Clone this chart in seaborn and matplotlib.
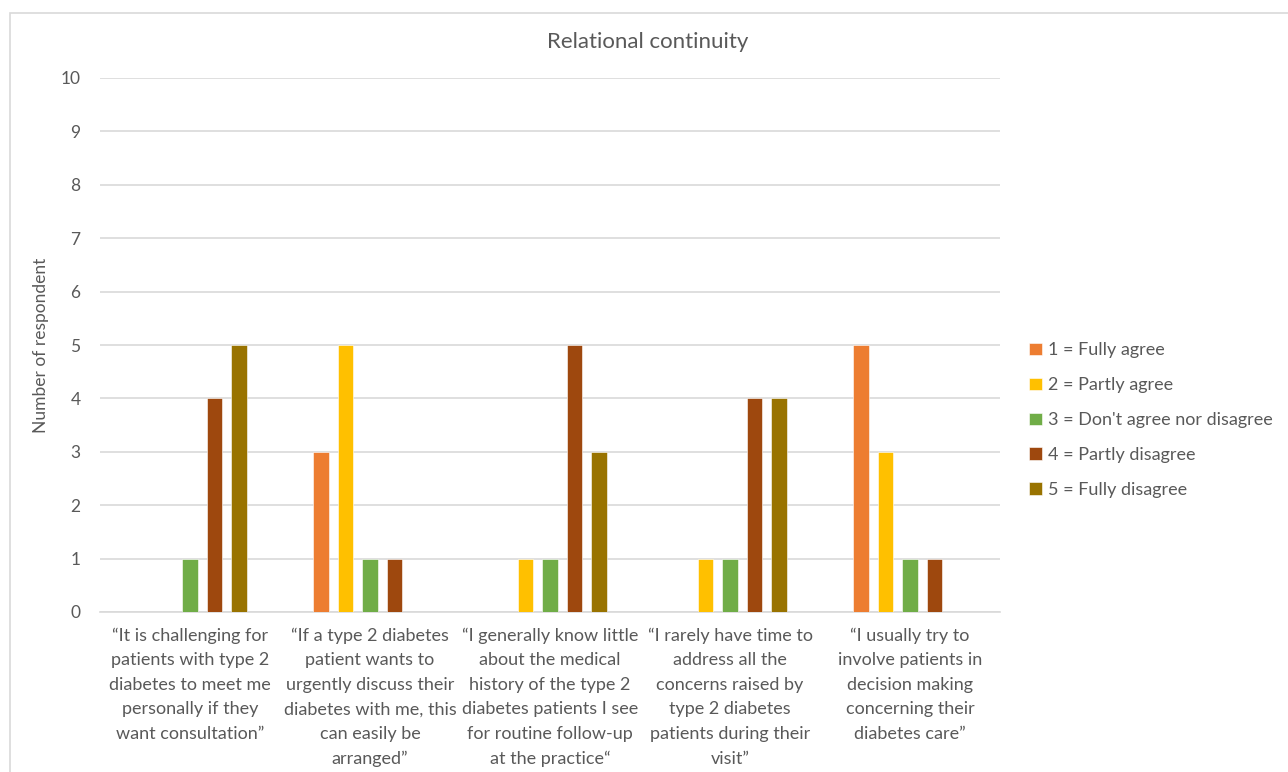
import matplotlib
matplotlib.use("Agg")
import matplotlib.pyplot as plt
import seaborn as sns
import pandas as pd
from matplotlib.patches import Rectangle

categories = [
    "\u201cIt is challenging for\npatients with type 2\ndiabetes to meet me\npersonally if they\nwant consultation\u201d",
    "\u201cIf a type 2 diabetes\npatient wants to\nurgently discuss their\ndiabetes with me, this\ncan easily be\narranged\u201d",
    "\u201cI generally know little\nabout the medical\nhistory of the type 2\ndiabetes patients I see\nfor routine follow-up\nat the practice\u201c",
    "\u201cI rarely have time to\naddress all the\nconcerns raised by\ntype 2 diabetes\npatients during their\nvisit\u201d",
    "\u201cI usually try to\ninvolve patients in\ndecision making\nconcerning their\ndiabetes care\u201d",
]
series = [
    "1 = Fully agree",
    "2 = Partly agree",
    "3 = Don't agree nor disagree",
    "4 = Partly disagree",
    "5 = Fully disagree",
]
fully_agree = [0, 3, 0, 0, 5]
partly_agree = [0, 5, 1, 1, 3]
neither = [1, 1, 1, 1, 1]
partly_disagree = [4, 1, 5, 4, 1]
fully_disagree = [5, 0, 3, 4, 0]
colors = ["#ED7D31", "#FFC000", "#70AD47", "#9E480E", "#997300"]
yticks = list(range(0, 11))

values = [fully_agree, partly_agree, neither, partly_disagree, fully_disagree]
rows = []
for s, vals in zip(series, values):
    for c, v in zip(categories, vals):
        rows.append({"category": c, "series": s, "value": v})
df = pd.DataFrame(rows)

sns.set_theme(style="white")
plt.rcParams["font.family"] = ["Lato", "DejaVu Sans"]
text_color = "#595959"
grid_color = "#D9D9D9"

fig = plt.figure(figsize=(12.88, 7.72), dpi=100)
ax = fig.add_axes([100 / 1288, 1 - 612 / 772, 900 / 1288, (612 - 78) / 772])

sns.barplot(data=df, x="category", y="value", hue="series", order=categories,
            hue_order=series, palette=colors, saturation=1, width=0.68, gap=0.37,
            edgecolor="white", linewidth=0.4, ax=ax, zorder=3)

ax.set_ylim(0, 10)
ax.set_xlim(-0.5, len(categories) - 0.5)
ax.set_yticks(yticks)
ax.set_yticklabels([str(t) for t in yticks])
ax.yaxis.grid(True, color=grid_color, linewidth=1.2, zorder=0)
ax.set_axisbelow(True)
for side in ["top", "right", "left"]:
    ax.spines[side].set_visible(False)
ax.spines["bottom"].set_color(grid_color)
ax.spines["bottom"].set_linewidth(1.2)
ax.tick_params(axis="y", length=0, pad=14, labelsize=12.5, labelcolor=text_color)
ax.tick_params(axis="x", length=0, pad=11, labelsize=13, labelcolor=text_color)
for lbl in ax.get_xticklabels():
    lbl.set_linespacing(1.66)
ax.set_xlabel("")
ax.set_ylabel("Number of respondent", fontsize=12.5, color=text_color, labelpad=8)
fig.text(648 / 1288, 1 - 42 / 772, "Relational continuity", fontsize=16,
         color=text_color, ha="center", va="center")

leg = ax.get_legend()
handles = leg.legend_handles
leg.remove()
fig.legend(handles, series, loc="upper left", bbox_to_anchor=(1013 / 1288, 1 - 326 / 772),
           frameon=False, fontsize=13, labelcolor=text_color, handlelength=0.7,
           handleheight=0.7, handletextpad=0.35, labelspacing=1.05)

fig.patches.append(Rectangle((10 / 1288, -0.05), 1.1, 1 - 13 / 772 + 0.05,
                             transform=fig.transFigure, fill=False,
                             edgecolor=grid_color, linewidth=1.2, zorder=0))

fig.savefig("out.png", dpi=100, facecolor="white")
